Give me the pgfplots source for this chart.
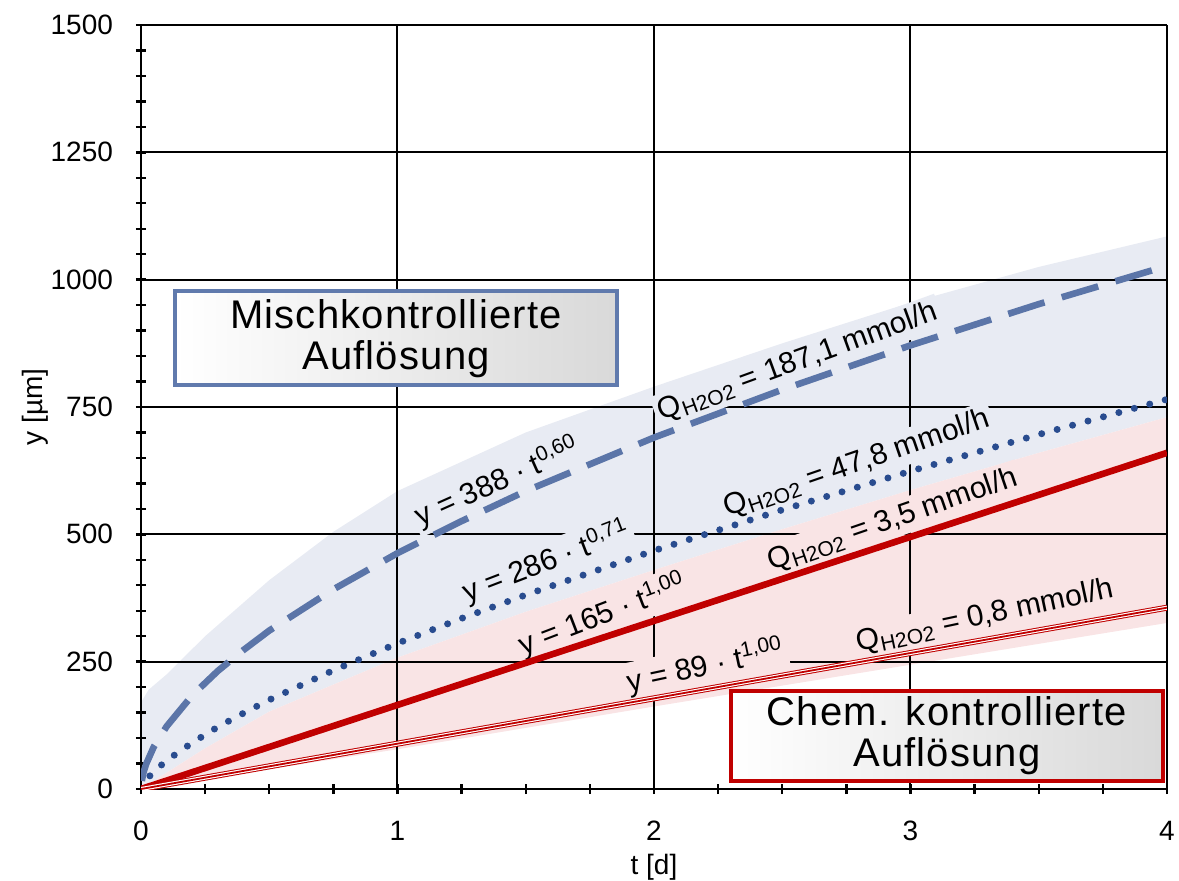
\documentclass[border=0pt]{standalone}
\usepackage{fontspec}
\setmainfont{Liberation Sans}
\newfontfamily\boxfont{Liberation Sans}[LetterSpace=3]
\usepackage{pgfplots}
\pgfplotsset{compat=1.18}
\definecolor{dashblue}{RGB}{91,117,168}
\definecolor{dotblue}{RGB}{41,76,143}
\definecolor{myred}{RGB}{192,0,0}
\definecolor{bandblue}{RGB}{232,235,243}
\definecolor{bandpink}{RGB}{249,228,229}
\definecolor{boxblue}{RGB}{96,122,173}
\begin{document}
\begin{tikzpicture}
\begin{axis}[
  set layers,
  scale only axis,
  at={(0pt,0pt)}, anchor=south west,
  width=513pt, height=382pt,
  xmin=0, xmax=4, ymin=0, ymax=1500,
  xtick={0,1,2,3,4}, ytick={0,250,...,1500},
  minor x tick num=3, minor y tick num=4,
  xtick align=center, ytick align=outside,
  major tick length=5pt, minor tick length=5pt,
  tick style={black, line width=1.2pt},
  axis lines=left,
  axis line style={-, line width=1.3pt, black},
  grid=major,
  major grid style={black, line width=1pt},
  /pgf/number format/assume math mode=true,
  /pgf/number format/1000 sep={},
  tick label style={font=\fontsize{14}{16}\selectfont},
  xticklabel style={yshift=-10pt},
  yticklabel style={xshift=-8pt},
  xlabel={t [d]}, ylabel={y [µm]},
  label style={font=\fontsize{14}{16}\selectfont},
  x label style={at={(axis description cs:0.5,0)}, anchor=center, yshift=-39pt},
  y label style={at={(axis description cs:0,0.5)}, anchor=center, yshift=53pt},
]
% bands
\addplot[fill=bandblue, draw=none, on layer=axis background] coordinates {
 (0,0) (0,170) (0.03,195) (0.1,225) (0.25,300) (0.5,410) (0.75,505) (1,585)
 (1.5,700) (2,790) (2.5,875) (3,955) (3.5,1025) (4,1085)
 (4,730) (3.5,660) (3,587) (2.5,510) (2,430) (1.5,348) (1,258) (0.5,152) (0.25,80) (0,0)
};
\addplot[fill=bandpink, draw=none, on layer=axis background] coordinates {
 (0,0) (0.25,80) (0.5,152) (1,258) (1.5,348) (2,430) (2.5,510) (3,587) (3.5,660) (4,730)
 (4,326) (3,244) (2,162) (1,78) (0,0)
};
% labels
\begin{pgfonlayer}{pre main}
\begin{scope}[every node/.style={inner sep=2pt, font=\fontsize{15}{17}\selectfont}]
\node[fill=bandblue, rotate=24] at (axis cs:1.39,603) {y = 388 · t\textsuperscript{0,60}};
\node[fill=bandblue, rotate=20] at (axis cs:2.56,838) {Q\textsubscript{H2O2} = 187,1 mmol/h};
\node[fill=bandblue, rotate=21] at (axis cs:1.58,446) {y = 286 · t\textsuperscript{0,71}};
\node[fill=bandblue, rotate=19] at (axis cs:2.79,638) {Q\textsubscript{H2O2} = 47,8 mmol/h};
\node[fill=bandpink, rotate=21] at (axis cs:1.80,342) {y = 165 · t\textsuperscript{1,00}};
\node[fill=bandpink, rotate=19] at (axis cs:2.93,528) {Q\textsubscript{H2O2} = 3,5 mmol/h};
\node[fill=bandpink, rotate=12] at (axis cs:2.20,241) {y = 89 · t\textsuperscript{1,00}};
\node[fill=bandpink, rotate=12] at (axis cs:3.29,339) {Q\textsubscript{H2O2} = 0,8 mmol/h};
\end{scope}
\end{pgfonlayer}
% curves
\addplot[dashblue, line width=3.3pt, dash pattern=on 19pt off 9pt] coordinates {
 (0.003,16) (0.01,33) (0.02,49) (0.05,83) (0.1,123) (0.2,184) (0.3,232) (0.4,273)
 (0.5,311) (0.75,392) (1,463) (1.25,526) (1.5,585) (2,690) (2.5,784) (3,871) (3.5,952) (4,1027)
};
\addplot[dotblue, line width=3.5pt, line cap=round, dash pattern=on 0pt off 8pt] coordinates {
 (0,0) (0.02,18) (0.05,34) (0.1,56) (0.2,91) (0.3,122) (0.4,149) (0.5,175) (0.75,233)
 (1,286) (1.25,335) (1.5,381) (2,468) (2.5,548) (3,624) (3.5,696) (4,765)
};
\addplot[myred, line width=3.3pt] coordinates {(0,0) (4,660)};
\addplot[myred, line width=3pt] coordinates {(0,0) (4,356)};
\addplot[white, line width=2pt] coordinates {(0,0) (4,356)};
\addplot[myred, line width=0.9pt] coordinates {(0,0) (4,356)};
% boxes
\begin{pgfonlayer}{axis foreground}
\node[draw=boxblue, line width=2pt, left color=white, right color=black!15,
  minimum width=221pt, minimum height=47pt, inner sep=0pt, align=center,
  font=\boxfont\fontsize{20}{20.5}\selectfont] at (axis cs:0.994,885)
  {Mischkontrollierte\\Auflösung};
\node[draw=myred, line width=2.3pt, left color=white, right color=black!15,
  minimum width=216pt, minimum height=45pt, inner sep=0pt, align=center,
  font=\boxfont\fontsize{20}{20.5}\selectfont] at (axis cs:3.142,104)
  {Chem. kontrollierte\\Auflösung};
\end{pgfonlayer}
\end{axis}
\pgfresetboundingbox
\path[use as bounding box] (-70.5pt,-45.5pt) rectangle (519pt,394.5pt);
\end{tikzpicture}
\end{document}
